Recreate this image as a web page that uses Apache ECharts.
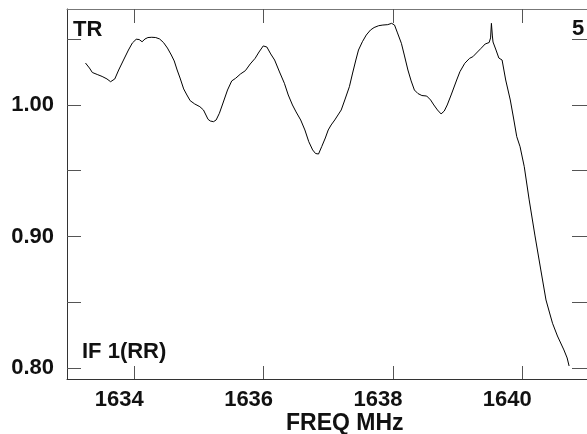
<!DOCTYPE html>
<html>
<head>
<meta charset="utf-8">
<script src="https://cdn.jsdelivr.net/npm/echarts@6/dist/echarts.min.js"></script>
<style>
html,body{margin:0;padding:0;background:#fff;}
#chart{width:587px;height:434px;}
</style>
</head>
<body>
<div id="chart"></div>
<script>
// Frequency (MHz)
var freq = [1633.246,1633.307,1633.352,1633.427,1633.503,1633.578,1633.634,1633.699,1633.759,1633.834,1633.910,1633.970,1634.030,1634.075,1634.121,1634.166,1634.211,1634.271,1634.332,1634.392,1634.452,1634.513,1634.573,1634.618,1634.663,1634.708,1634.764,1634.814,1634.864,1634.934,1635.014,1635.070,1635.141,1635.176,1635.225,1635.266,1635.316,1635.372,1635.442,1635.507,1635.567,1635.643,1635.718,1635.793,1635.869,1635.929,1635.994,1636.050,1636.110,1636.170,1636.246,1636.321,1636.381,1636.446,1636.502,1636.573,1636.638,1636.698,1636.758,1636.803,1636.849,1636.898,1636.954,1636.999,1637.044,1637.100,1637.150,1637.200,1637.255,1637.326,1637.376,1637.426,1637.467,1637.527,1637.587,1637.652,1637.708,1637.779,1637.844,1637.919,1637.979,1638.002,1638.024,1638.070,1638.130,1638.175,1638.231,1638.281,1638.331,1638.386,1638.447,1638.522,1638.582,1638.632,1638.688,1638.744,1638.793,1638.839,1638.899,1638.985,1639.035,1639.110,1639.185,1639.235,1639.306,1639.362,1639.426,1639.487,1639.509,1639.522,1639.537,1639.547,1639.593,1639.637,1639.687,1639.743,1639.814,1639.864,1639.914,1639.965,1640.030,1640.106,1640.196,1640.286,1640.366,1640.422,1640.467,1640.543,1640.643,1640.693,1640.723];
// TR amplitude
var tr = [1.0319,1.0281,1.0247,1.0232,1.0217,1.0198,1.0177,1.0198,1.0266,1.0342,1.0418,1.0471,1.0500,1.0498,1.0481,1.0502,1.0513,1.0515,1.0513,1.0502,1.0475,1.0433,1.0380,1.0335,1.0266,1.0205,1.0122,1.0076,1.0033,1.0008,0.9987,0.9962,0.9891,0.9878,0.9873,0.9886,0.9937,1.0015,1.0114,1.0183,1.0203,1.0236,1.0261,1.0312,1.0355,1.0403,1.0449,1.0441,1.0388,1.0342,1.0251,1.0165,1.0076,1.0000,0.9947,0.9886,0.9810,0.9721,0.9658,0.9631,0.9627,0.9683,0.9749,0.9810,0.9848,0.9886,0.9924,0.9962,1.0038,1.0139,1.0243,1.0342,1.0418,1.0481,1.0532,1.0570,1.0589,1.0603,1.0608,1.0611,1.0621,1.0635,1.0608,1.0548,1.0469,1.0380,1.0266,1.0183,1.0114,1.0087,1.0072,1.0068,1.0038,1.0000,0.9962,0.9932,0.9954,1.0000,1.0076,1.0190,1.0253,1.0317,1.0355,1.0367,1.0403,1.0431,1.0464,1.0475,1.0510,1.0621,1.0525,1.0479,1.0418,1.0357,1.0342,1.0190,1.0038,0.9901,0.9759,0.9683,0.9531,0.9278,0.9004,0.8745,0.8517,0.8418,0.8340,0.8243,0.8137,0.8076,0.8015];
var xTicks = [1634,1636,1638,1640];
var yTicks = [0.80,0.85,0.90,0.95,1.00,1.05];
var yLabels = [0.80,0.90,1.00];

var FONT = '"Liberation Sans", Arial, sans-serif';
var data = freq.map(function(f,i){return [f, tr[i]];});
var chart = echarts.init(document.getElementById('chart'), null, {renderer:'canvas'});
var lblStyle = {fontFamily:FONT, fontWeight:'bold', fontSize:22, color:'#111'};
chart.setOption({
  animation:false,
  backgroundColor:'#fff',
  grid:{left:67, top:9, right:-14, bottom:55},
  xAxis:[{
    type:'value', position:'bottom', min:1632.96, max:1641,
    axisLine:{show:true, onZero:false, lineStyle:{color:'#333', width:1}},
    axisTick:{show:true, inside:true, length:13, customValues:xTicks, lineStyle:{color:'#555'}},
    axisLabel:Object.assign({show:true, customValues:xTicks, margin:10, padding:[0,30,0,0], formatter:function(v){return String(Math.round(v));}}, lblStyle),
    splitLine:{show:false}
  },{
    type:'value', position:'top', min:1632.96, max:1641,
    axisLine:{show:true, onZero:false, lineStyle:{color:'#777', width:1}},
    axisTick:{show:true, inside:true, length:14, customValues:xTicks, lineStyle:{color:'#555'}},
    axisLabel:{show:false}, splitLine:{show:false}
  }],
  yAxis:[{
    type:'value', position:'left', min:0.7916, max:1.073,
    axisLine:{show:true, onZero:false, lineStyle:{color:'#333', width:1}},
    axisTick:{show:true, inside:true, length:14, customValues:yTicks, lineStyle:{color:'#555'}},
    axisLabel:Object.assign({show:true, customValues:yLabels, margin:13, formatter:function(v){return v.toFixed(2);}}, lblStyle),
    splitLine:{show:false}
  },{
    type:'value', position:'right', min:0.7916, max:1.073,
    axisLine:{show:true, onZero:false, lineStyle:{color:'#333', width:1}},
    axisTick:{show:true, inside:true, length:15, customValues:yTicks, lineStyle:{color:'#555'}},
    axisLabel:{show:false}, splitLine:{show:false}
  }],
  graphic:[
    {type:'text', left:73, top:19, style:{text:'TR', font:'bold 22px '+FONT, fill:'#111'}},
    {type:'text', left:572, top:18, style:{text:'5', font:'bold 22px '+FONT, fill:'#111'}},
    {type:'text', left:82, top:341, style:{text:'IF 1(RR)', font:'bold 22px '+FONT, fill:'#111'}},
    {type:'text', left:286, top:412, style:{text:'FREQ MHz', font:'bold 23px '+FONT, fill:'#111'}}
  ],
  series:[{
    type:'line', data:data, showSymbol:false, smooth:false, clip:true,
    lineStyle:{color:'#000', width:1}
  }]
});
</script>
</body>
</html>
